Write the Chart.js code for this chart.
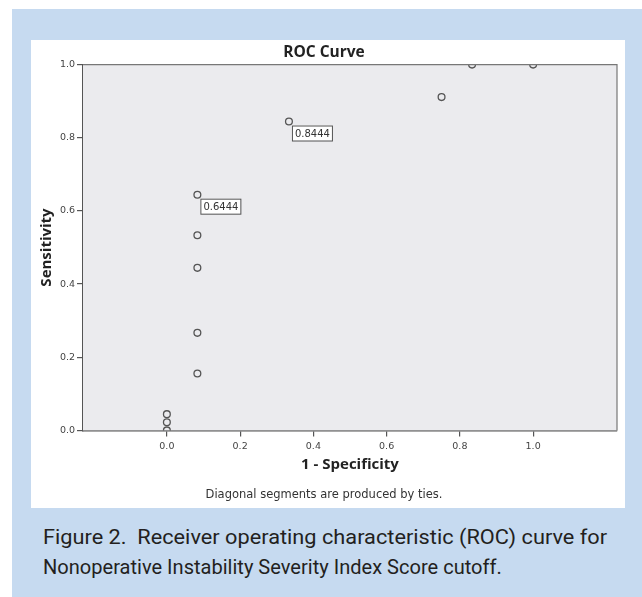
<!DOCTYPE html>
<html>
<head>
<meta charset="utf-8">
<script src="https://cdn.jsdelivr.net/npm/chart.js@4.4.1/dist/chart.umd.min.js"></script>
<style>
    body { margin: 0; background: #fff; width: 642px; height: 597px; overflow: hidden; position: relative; }
    #frame { position: absolute; left: 12px; top: 9px; width: 630px; height: 588px; background: #c6daf0; }
    #panel { position: absolute; left: 31px; top: 40px; width: 594px; height: 468px; background: #fff; }
    #caption {
        position: absolute; left: 43px; top: 522px; width: 590px;
        font-family: "Roboto", sans-serif; font-size: 21px;
        line-height: 30px; color: #231f20; white-space: nowrap;
    }
    #caption span { display: block; transform-origin: left center; }
</style>
</head>
<body>
<div id="frame"></div>
<div id="panel"><canvas id="myChart" width="594" height="468"></canvas></div>
<div id="caption">
    <span style="transform: scaleX(1.035)">Figure 2.&nbsp; Receiver operating characteristic (ROC) curve for</span>
    <span style="transform: scaleX(0.955)">Nonoperative Instability Severity Index Score cutoff.</span>
</div>
<script>
const specificity = [0, 0, 0, 0.0833, 0.0833, 0.0833, 0.0833, 0.0833, 0.3333, 0.75, 0.8333, 1.0];
const sensitivity = [0, 0.0222, 0.0444, 0.1556, 0.2667, 0.4444, 0.5333, 0.6444, 0.8444, 0.9111, 1.0, 1.0];
const labelledPoints = [7, 8];
const xTicks = [0, 0.2, 0.4, 0.6, 0.8, 1.0];
const yTicks = [0, 0.2, 0.4, 0.6, 0.8, 1.0];

const tickFont = { family: 'DejaVu Sans', size: 9.5 };
const titleFont = { family: 'Open Sans', size: 15, weight: 'bold' };

// grey plot background + the top/right frame lines
const plotFrame = {
    id: 'plotFrame',
    beforeDatasetsDraw(chart) {
        const { ctx, chartArea: a } = chart;
        ctx.save();
        ctx.fillStyle = '#ebebee';
        ctx.fillRect(a.left, a.top, a.right - a.left, a.bottom - a.top);
        ctx.restore();
    },
    afterDatasetsDraw(chart) {
        const { ctx, chartArea: a } = chart;
        ctx.save();
        ctx.strokeStyle = '#777';
        ctx.lineWidth = 1.2;
        ctx.beginPath();
        ctx.moveTo(a.left, a.top);
        ctx.lineTo(a.right, a.top);
        ctx.lineTo(a.right, a.bottom);
        ctx.stroke();

        // boxed value labels next to two points
        const xs = chart.scales.x, ys = chart.scales.y;
        ctx.font = '10px "DejaVu Sans"';
        ctx.textBaseline = 'middle';
        labelledPoints.forEach(i => {
            const px = xs.getPixelForValue(specificity[i]);
            const py = ys.getPixelForValue(sensitivity[i]);
            const txt = sensitivity[i].toFixed(4);
            const w = ctx.measureText(txt).width + 5;
            ctx.fillStyle = '#fff';
            ctx.fillRect(px + 3, py + 4, w, 15);
            ctx.strokeStyle = '#555';
            ctx.lineWidth = 1;
            ctx.strokeRect(px + 3.5, py + 4.5, w, 15);
            ctx.fillStyle = '#333';
            ctx.fillText(txt, px + 6, py + 12.5);
        });
        ctx.restore();
    }
};

const ctx = document.getElementById('myChart').getContext('2d');
const myChart = new Chart(ctx, {
    type: 'scatter',
    data: {
        datasets: [{
            data: specificity.map((v, i) => ({ x: v, y: sensitivity[i] })),
            pointRadius: 3.4,
            pointBorderWidth: 1.3,
            pointBorderColor: '#555',
            pointBackgroundColor: 'rgba(0,0,0,0)',
            showLine: false
        }]
    },
    options: {
        responsive: false,
        animation: false,
        layout: { padding: { left: 0, right: 8, top: 0, bottom: 0 } },
        plugins: {
            legend: { display: false },
            tooltip: { enabled: false },
            title: {
                display: true,
                text: 'ROC Curve',
                color: '#222',
                font: { family: 'Open Sans', size: 15.5, weight: 'bold' },
                padding: { top: 3, bottom: 3 }
            },
            subtitle: {
                display: true,
                position: 'bottom',
                text: 'Diagonal segments are produced by ties.',
                color: '#333',
                font: { family: 'DejaVu Sans', size: 11.5 },
                padding: { top: 4, bottom: 6 }
            }
        },
        scales: {
            x: {
                type: 'linear',
                min: -0.229,
                max: 1.229,
                afterBuildTicks: s => { s.ticks = xTicks.map(v => ({ value: v })); },
                afterFit: s => { s.height = 53.8; },
                ticks: {
                    color: '#444',
                    font: tickFont,
                    padding: 4,
                    maxRotation: 0,
                    callback: v => v.toFixed(1)
                },
                grid: { drawOnChartArea: false, drawTicks: true, tickLength: 6, color: '#555', lineWidth: 1.2 },
                border: { display: true, color: '#555', width: 1.5 },
                title: {
                    display: true,
                    text: '1 - Specificity',
                    color: '#222',
                    font: titleFont,
                    padding: { top: 0, bottom: 10 }
                }
            },
            y: {
                type: 'linear',
                min: 0,
                max: 1,
                afterBuildTicks: s => { s.ticks = yTicks.map(v => ({ value: v })); },
                afterFit: s => { s.width = 52; },
                ticks: {
                    color: '#444',
                    font: tickFont,
                    padding: 2,
                    callback: v => v.toFixed(1)
                },
                grid: { drawOnChartArea: false, drawTicks: true, tickLength: 6, color: '#555', lineWidth: 1.2 },
                border: { display: true, color: '#555', width: 1.5 },
                title: {
                    display: true,
                    text: 'Sensitivity',
                    color: '#222',
                    font: titleFont,
                    padding: { top: 7, bottom: 0 }
                }
            }
        }
    },
    plugins: [plotFrame]
});
</script>
</body>
</html>
